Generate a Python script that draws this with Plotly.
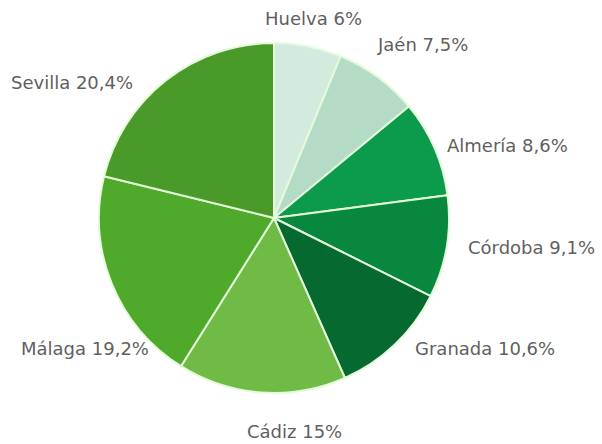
import plotly.graph_objects as go

# Share by province (%)
provinces = ["Huelva", "Jaén", "Almería", "Córdoba", "Granada", "Cádiz", "Málaga", "Sevilla"]
shares = [6, 7.5, 8.6, 9.1, 10.6, 15, 19.2, 20.4]

slice_colors = ["#d3ebdf", "#b3dbc6", "#0c9b4d", "#08883f", "#066a30",
                "#6fbb45", "#4faa2c", "#4a9a2a"]

# Label anchor points in pixels (x, y from top-left) for a 602x444 canvas
W, H = 602, 444
label_px = [(313, 18), (422, 45), (507, 145), (531, 248),
            (485, 348), (294, 431), (85, 348), (72, 83)]

def fmt(v):
    return f"{v:g}".replace(".", ",")

fig = go.Figure(go.Pie(
    labels=provinces,
    values=shares,
    sort=False,
    direction="clockwise",
    rotation=0,
    textinfo="none",
    hoverinfo="skip",
    marker=dict(colors=slice_colors, line=dict(color="#e4fadb", width=2)),
    domain=dict(x=[(274 - 175) / W, (274 + 175) / W],
                y=[1 - (218 + 175) / H, 1 - (218 - 175) / H]),
    showlegend=False,
))

for name, val, (px, py) in zip(provinces, shares, label_px):
    fig.add_annotation(
        x=px / W, y=1 - py / H, xref="paper", yref="paper",
        text=f"{name} {fmt(val)}%", showarrow=False,
        xanchor="center", yanchor="middle",
        font=dict(family="DejaVu Sans", size=18, color="#5f5f5f"),
    )

fig.update_layout(
    width=W, height=H,
    margin=dict(l=0, r=0, t=0, b=0),
    paper_bgcolor="white", plot_bgcolor="white",
)

fig.write_html("out.html")
